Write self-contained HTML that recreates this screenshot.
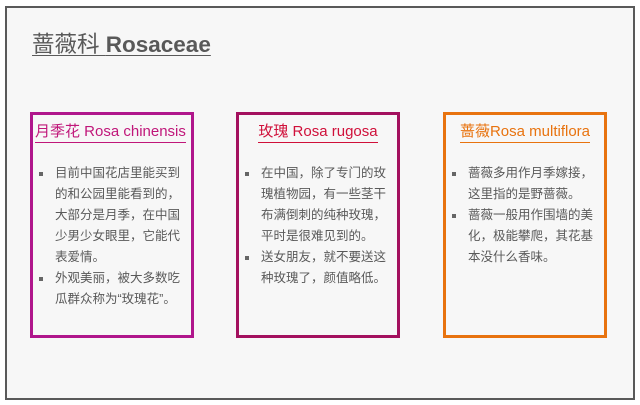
<!DOCTYPE html>
<html><head><meta charset="utf-8"><style>
body{margin:0;width:640px;height:405px;background:#fff;position:relative;overflow:hidden;font-family:"Liberation Sans","Noto Sans CJK SC",sans-serif}
#frame{position:absolute;left:5px;top:6px;width:626px;height:390px;border:2px solid #595959;background:#f7f7f7}
h1{position:absolute;left:32px;top:27px;margin:0;font-size:22.5px;font-weight:normal;color:#595959;text-decoration:underline;text-underline-offset:3px;text-decoration-thickness:1px}
h1 b{font-weight:bold}
.box{position:absolute;top:112px;width:158px;height:220px;border:3px solid}
.t{position:absolute;top:8px;left:0;right:0;text-align:center;font-size:15px;line-height:18px;white-space:nowrap}
.t span{border-bottom:1px solid;padding-bottom:2px}
ul{position:absolute;top:48px;left:0;margin:0;padding:0 8px 0 22px;list-style:none;font-size:12.5px;line-height:21px;color:#595959}
li{position:relative}
li:before{content:"";position:absolute;left:-16px;top:9px;width:4px;height:4px;background:#666}
</style></head><body>
<div id="frame"></div>
<h1>蔷薇科 <b>Rosaceae</b></h1>
<div class="box" style="left:30px;border-color:#b0168c">
<div class="t" style="color:#c0177a;text-align:left;left:2px"><span style="border-color:#c0177a">月季花 Rosa chinensis</span></div>
<ul><li>目前中国花店里能买到的和公园里能看到的，大部分是月季，在中国少男少女眼里，它能代表爱情。</li><li>外观美丽，被大多数吃瓜群众称为“玫瑰花”。</li></ul></div>
<div class="box" style="left:236px;border-color:#a3105e">
<div class="t" style="color:#d0103a"><span style="border-color:#d0103a">玫瑰 Rosa rugosa</span></div>
<ul><li>在中国，除了专门的玫瑰植物园，有一些茎干布满倒刺的纯种玫瑰，平时是很难见到的。</li><li>送女朋友，就不要送这种玫瑰了，颜值略低。</li></ul></div>
<div class="box" style="left:443px;border-color:#e8730f">
<div class="t" style="color:#e8730f"><span style="border-color:#e8730f">蔷薇Rosa multiflora</span></div>
<ul><li>蔷薇多用作月季嫁接，这里指的是野蔷薇。</li><li>蔷薇一般用作围墙的美化，极能攀爬，其花基本没什么香味。</li></ul></div>
</body></html>
